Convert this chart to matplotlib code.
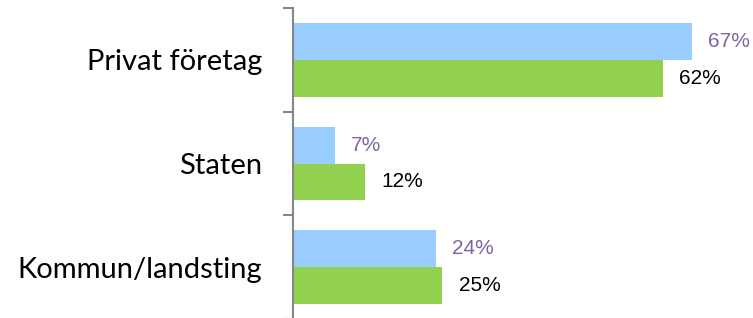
import numpy as np
import matplotlib.pyplot as plt

# data
categories = ["Privat företag", "Staten", "Kommun/landsting"]
blue_vals = [67, 7, 24]
green_vals = [62, 12, 25]

blue_col = "#99CCFF"
green_col = "#92D050"
axis_col = "#868686"

fig = plt.figure(figsize=(7.53, 3.18), dpi=100)
ax = fig.add_axes([293/753, -1/318, 460/753, 311/318])

y = np.arange(len(categories))
h = 0.355

ax.barh(y - h/2, blue_vals, height=h, color=blue_col)
ax.barh(y + h/2, green_vals, height=h, color=green_col)

for yi, v in zip(y, blue_vals):
    ax.text(v + 2.7, yi - h/2, f"{v}%", va="center", ha="left",
            fontsize=15, color="#8064A2", family="Liberation Sans")
for yi, v in zip(y, green_vals):
    ax.text(v + 2.8, yi + h/2, f"{v}%", va="center", ha="left",
            fontsize=15, color="black", family="Liberation Sans")

ax.set_xlim(0, 460/5.96)
ax.set_ylim(2.5, -0.5)

ax.set_yticks(y)
ax.set_yticklabels(categories, family="Lato", fontsize=21)
ax.tick_params(axis="y", which="major", length=0, pad=22)
ax.set_yticks(np.arange(-0.5, len(categories)), minor=True)
ax.tick_params(axis="y", which="minor", length=7.5, width=1.5, color=axis_col)
ax.set_xticks([])

for s in ["top", "right", "bottom"]:
    ax.spines[s].set_visible(False)
ax.spines["left"].set_color(axis_col)
ax.spines["left"].set_linewidth(1.5)

fig.savefig("out.png", dpi=100)
